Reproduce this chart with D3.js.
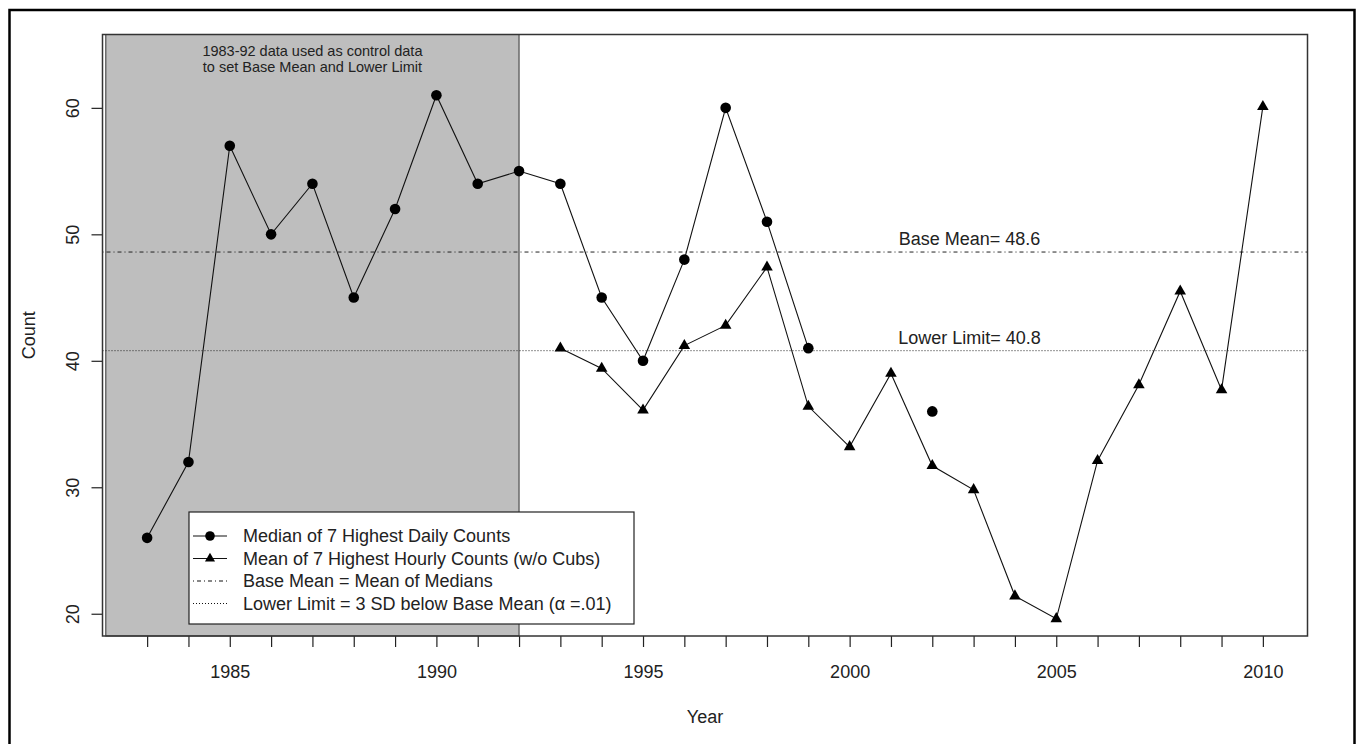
<!DOCTYPE html>
<html>
<head>
<meta charset="utf-8">
<script src="https://cdn.jsdelivr.net/npm/d3@7"></script>
<style>
	body { margin: 0; background: #fff; }
	svg { display: block; font-family: "Liberation Sans", Arial, sans-serif; }
</style>
</head>
<body>
<svg id="chart" width="1360" height="744"></svg>
<script>
// median of 7 highest daily counts (no value for 2000, 2001)
const medianYears = [1983, 1984, 1985, 1986, 1987, 1988, 1989, 1990, 1991, 1992,
	1993, 1994, 1995, 1996, 1997, 1998, 1999, 2000, 2001, 2002];
const medianCounts = [26, 32, 57, 50, 54, 45, 52, 61, 54, 55,
	54, 45, 40, 48, 60, 51, 41, null, null, 36];

// mean of 7 highest hourly counts (w/o cubs)
const hourlyYears = [1993, 1994, 1995, 1996, 1997, 1998, 1999, 2000, 2001,
	2002, 2003, 2004, 2005, 2006, 2007, 2008, 2009, 2010];
const hourlyMeans = [41.0, 39.4, 36.1, 41.2, 42.8, 47.4, 36.4, 33.2, 39.0,
	31.7, 29.8, 21.4, 19.6, 32.1, 38.1, 45.5, 37.7, 60.1];

const baseMean = 48.6;
const lowerLimit = 40.8;
const controlYears = [1982, 1992];

const xTicks = [1983, 1984, 1985, 1986, 1987, 1988, 1989, 1990, 1991, 1992, 1993, 1994, 1995, 1996,
	1997, 1998, 1999, 2000, 2001, 2002, 2003, 2004, 2005, 2006, 2007, 2008, 2009, 2010];
const xTickLabels = [1985, 1990, 1995, 2000, 2005, 2010];
const yTicks = [20, 30, 40, 50, 60];

const legendLabels = [
	"Median of 7 Highest Daily Counts",
	"Mean of 7 Highest Hourly Counts (w/o Cubs)",
	"Base Mean = Mean of Medians",
	"Lower Limit = 3 SD below Base Mean (\u03b1 =.01)"
];

const ink = "#222";
const plot = {left: 102.5, right: 1307.5, top: 34.5, bottom: 636};
const svg = d3.select("#chart");

const x = d3.scaleLinear().domain([1981.92, 2011.08]).range([plot.left, plot.right]);
const y = d3.scaleLinear().domain([18.24, 65.8]).range([plot.bottom, plot.top]);

// outer frame (bottom edge falls off the picture)
svg.append("rect")
	.attr("x", 9.5).attr("y", 10).attr("width", 1345).attr("height", 780)
	.attr("fill", "none").attr("stroke", "#000").attr("stroke-width", 2.5);

// control period shading
svg.append("rect")
	.attr("x", x(controlYears[0])).attr("y", plot.top)
	.attr("width", x(controlYears[1]) - x(controlYears[0]))
	.attr("height", plot.bottom - plot.top)
	.attr("fill", "#bebebe").attr("stroke", "#333").attr("stroke-width", 1);

svg.append("text")
	.attr("x", (x(controlYears[0]) + x(controlYears[1])) / 2)
	.attr("text-anchor", "middle").attr("font-size", "14.5px").attr("fill", ink)
	.selectAll("tspan")
	.data(["1983-92 data used as control data", "to set Base Mean and Lower Limit"])
	.enter().append("tspan")
	.attr("x", (x(controlYears[0]) + x(controlYears[1])) / 2)
	.attr("y", function(d, i){ return 56 + i * 16; })
	.text(function(d){ return d; });

// reference lines
svg.append("line")
	.attr("x1", plot.left).attr("x2", plot.right)
	.attr("y1", y(baseMean)).attr("y2", y(baseMean))
	.attr("stroke", ink).attr("stroke-width", 1).attr("stroke-dasharray", "1,3,4,3");
svg.append("line")
	.attr("x1", plot.left).attr("x2", plot.right)
	.attr("y1", y(lowerLimit)).attr("y2", y(lowerLimit))
	.attr("stroke", ink).attr("stroke-width", 1).attr("stroke-dasharray", "1,2");

const labelYear = 2002.9;
svg.append("text").attr("x", x(labelYear)).attr("y", y(baseMean) - 7.5)
	.attr("text-anchor", "middle").attr("font-size", "18px").attr("fill", ink)
	.text("Base Mean= " + baseMean);
svg.append("text").attr("x", x(labelYear)).attr("y", y(lowerLimit) - 7)
	.attr("text-anchor", "middle").attr("font-size", "18px").attr("fill", ink)
	.text("Lower Limit= " + lowerLimit);

// series
const medianData = medianYears.map(function(d, i){ return {year: d, v: medianCounts[i]}; });
const hourlyData = hourlyYears.map(function(d, i){ return {year: d, v: hourlyMeans[i]}; });

const line = d3.line()
	.defined(function(d){ return d.v != null; })
	.x(function(d){ return x(d.year); })
	.y(function(d){ return y(d.v); });

svg.append("path").datum(medianData)
	.attr("d", line).attr("fill", "none").attr("stroke", "#111").attr("stroke-width", 1.1);
svg.append("path").datum(hourlyData)
	.attr("d", line).attr("fill", "none").attr("stroke", "#111").attr("stroke-width", 1.1);

svg.selectAll(".median").data(medianData.filter(function(d){ return d.v != null; }))
	.enter().append("circle").attr("class", "median")
	.attr("cx", function(d){ return x(d.year); })
	.attr("cy", function(d){ return y(d.v); })
	.attr("r", 5.3).attr("fill", "#000");

const tri = d3.symbol().type(d3.symbolTriangle).size(58);
svg.selectAll(".hourly").data(hourlyData)
	.enter().append("path").attr("class", "hourly")
	.attr("transform", function(d){ return "translate(" + [x(d.year), y(d.v)] + ")"; })
	.attr("d", tri).attr("fill", "#000");

// axes
const xAxis = svg.append("g").attr("class", "xAxis")
	.attr("transform", "translate(" + [0, plot.bottom] + ")")
	.call(d3.axisBottom(x).tickValues(xTicks)
		.tickFormat(function(d){ return xTickLabels.indexOf(d) >= 0 ? d : ""; })
		.tickSize(11).tickSizeOuter(0).tickPadding(18.5));
const yAxis = svg.append("g").attr("class", "yAxis")
	.attr("transform", "translate(" + [plot.left, 0] + ")")
	.call(d3.axisLeft(y).tickValues(yTicks).tickSize(11).tickSizeOuter(0));

[xAxis, yAxis].forEach(function(g){
	g.select(".domain").remove();
	g.selectAll(".tick line").attr("stroke", ink).attr("stroke-width", 1.2);
	g.selectAll(".tick text").attr("fill", ink).attr("font-size", "18px")
		.attr("font-family", "\"Liberation Sans\", Arial, sans-serif");
});
yAxis.selectAll(".tick text")
	.attr("x", null).attr("dy", null)
	.attr("text-anchor", "middle")
	.attr("transform", "translate(-23.5,0) rotate(-90)");

// plot box
svg.append("rect")
	.attr("x", plot.left).attr("y", plot.top)
	.attr("width", plot.right - plot.left).attr("height", plot.bottom - plot.top)
	.attr("fill", "none").attr("stroke", "#333").attr("stroke-width", 1.5);

// axis titles
svg.append("text").attr("x", (plot.left + plot.right) / 2).attr("y", 723)
	.attr("text-anchor", "middle").attr("font-size", "18px").attr("fill", ink).text("Year");
svg.append("text")
	.attr("transform", "translate(" + [35, (plot.top + plot.bottom) / 2] + ") rotate(-90)")
	.attr("text-anchor", "middle").attr("font-size", "18px").attr("fill", ink).text("Count");

// legend
const legend = svg.append("g").attr("class", "legend");
legend.append("rect")
	.attr("x", 189).attr("y", 512).attr("width", 445).attr("height", 112)
	.attr("fill", "#fff").attr("stroke", ink).attr("stroke-width", 1.2);

const dashes = [null, null, "1,3,4,3", "1,2"];
const rows = legend.selectAll(".row").data(legendLabels).enter().append("g")
	.attr("class", "row")
	.attr("transform", function(d, i){ return "translate(" + [193, 536 + i * 22.5] + ")"; });
rows.append("line")
	.attr("x1", 0).attr("x2", 34).attr("y1", 0).attr("y2", 0)
	.attr("stroke", "#111").attr("stroke-width", 1.1)
	.attr("stroke-dasharray", function(d, i){ return dashes[i]; });
rows.filter(function(d, i){ return i === 0; }).append("circle")
	.attr("cx", 17).attr("cy", 0).attr("r", 4.8).attr("fill", "#000");
rows.filter(function(d, i){ return i === 1; }).append("path")
	.attr("transform", "translate(17,0)").attr("d", d3.symbol().type(d3.symbolTriangle).size(44)).attr("fill", "#000");
rows.append("text")
	.attr("x", 50).attr("y", 0).attr("dy", "0.35em")
	.attr("font-size", "18px").attr("fill", ink)
	.text(function(d){ return d; });
</script>
</body>
</html>
